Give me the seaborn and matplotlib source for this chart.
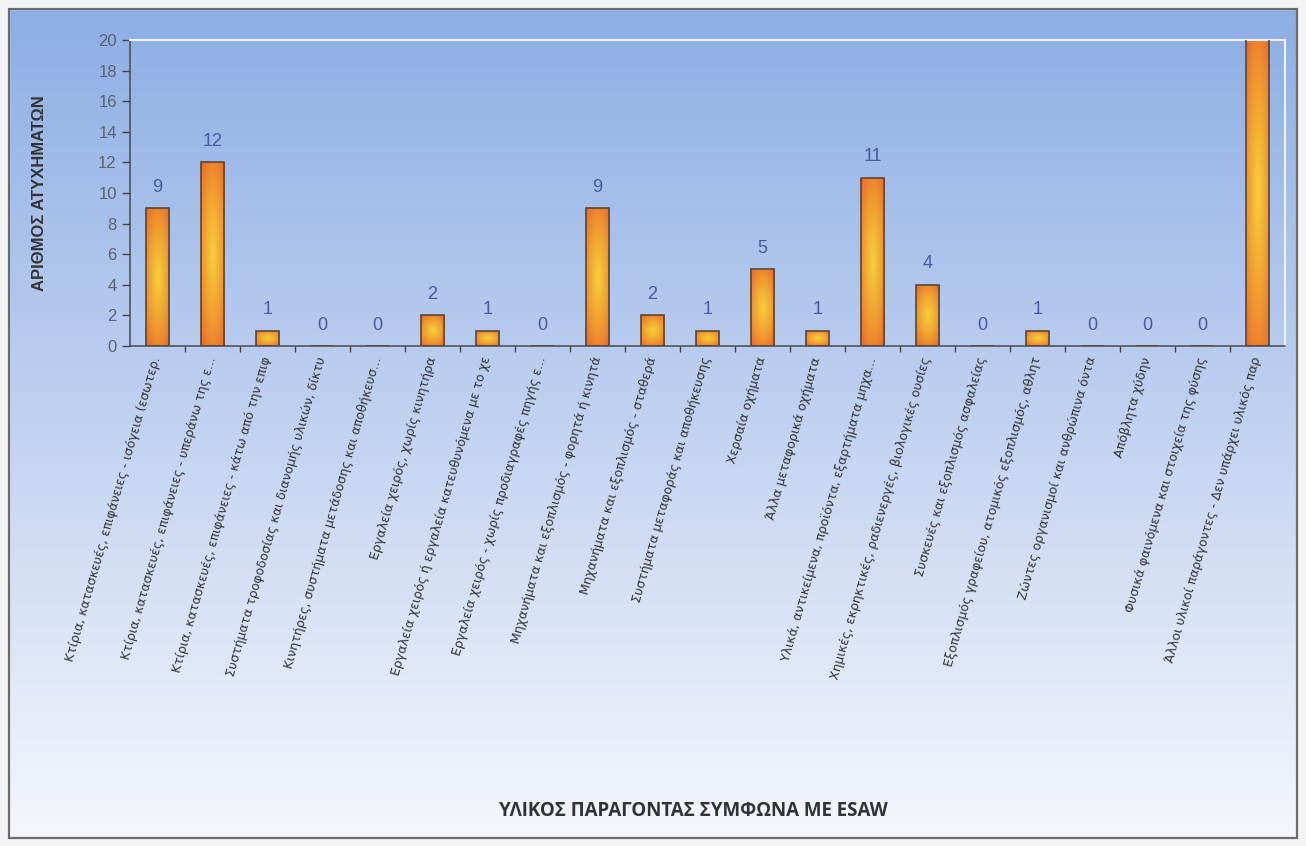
import numpy as np
import matplotlib
matplotlib.use("Agg")
import matplotlib.pyplot as plt
import seaborn as sns
from matplotlib.colors import LinearSegmentedColormap
from matplotlib.patches import Rectangle

# data
categories = [
    "Κτίρια, κατασκευές, επιφάνειες - ισόγεια (εσωτερ.",
    "Κτίρια, κατασκευές, επιφάνειες - υπεράνω της ε...",
    "Κτίρια, κατασκευές, επιφάνειες - κάτω από την επιφ",
    "Συστήματα τροφοδοσίας και διανομής υλικών, δίκτυ",
    "Κινητήρες, συστήματα μετάδοσης και αποθήκευσ...",
    "Εργαλεία χειρός, χωρίς κινητήρα",
    "Εργαλεία χειρός ή εργαλεία κατευθυνόμενα με το χε",
    "Εργαλεία χειρός - χωρίς προδιαγραφές πηγής ε...",
    "Μηχανήματα και εξοπλισμός - φορητά ή κινητά",
    "Μηχανήματα και εξοπλισμός - σταθερά",
    "Συστήματα μεταφοράς και αποθήκευσης",
    "Χερσαία οχήματα",
    "Άλλα μεταφορικά οχήματα",
    "Υλικά, αντικείμενα, προϊόντα, εξαρτήματα μηχα...",
    "Χημικές, εκρηκτικές, ραδιενεργές, βιολογικές ουσίες",
    "Συσκευές και εξοπλισμός ασφαλείας",
    "Εξοπλισμός γραφείου, ατομικός εξοπλισμός, αθλητ",
    "Ζώντες οργανισμοί και ανθρώπινα όντα",
    "Απόβλητα χύδην",
    "Φυσικά φαινόμενα και στοιχεία της φύσης",
    "Άλλοι υλικοί παράγοντες - Δεν υπάρχει υλικός παρ",
]
values = [9, 12, 1, 0, 0, 2, 1, 0, 9, 2, 1, 5, 1, 11, 4, 0, 1, 0, 0, 0, 30]
y_max = 20
y_ticks = list(range(0, 21, 2))

fig = plt.figure(figsize=(13.06, 8.46), dpi=100)

# background gradient (blue top -> white bottom)
bg = fig.add_axes([0, 0, 1, 1], zorder=-10)
top = np.array([140, 173, 228]) / 255
bot = np.array([246, 247, 253]) / 255
t = np.linspace(0, 1, 256)[:, None]
grad = top * (1 - t) + bot * t
bg.imshow(grad[:, None, :], aspect="auto", extent=[0, 1, 0, 1])
bg.set_xlim(0, 1)
bg.set_ylim(0, 1)
bg.axis("off")
bg.add_patch(Rectangle((0, 0), 1, 1, facecolor="none", edgecolor="#f4f4f4",
                       linewidth=14, transform=bg.transAxes))
bg.add_patch(Rectangle((9 / 1306, 8 / 846), 1 - 18 / 1306, 1 - 17 / 846,
                       facecolor="none", edgecolor="#6b6b6b", linewidth=1.6,
                       transform=bg.transAxes))

ax = fig.add_axes([130 / 1306, 1 - 346 / 846, 1155 / 1306, 306 / 846])
ax.patch.set_alpha(0)

sns.barplot(x=categories, y=values, ax=ax, width=0.43, color="#f0a030",
            edgecolor="#5a4636", linewidth=1.2, zorder=3)

# orange -> yellow gradient inside each bar
bar_cmap = LinearSegmentedColormap.from_list("bar", ["#f6d03c", "#f0a030", "#e8682c"])
for p in ax.patches:
    x0, w, h = p.get_x(), p.get_width(), p.get_height()
    if h <= 0:
        continue
    hv = min(h, y_max)
    xx, yy = np.meshgrid(np.linspace(-1, 1, 60), np.linspace(-1, 1, 120))
    d = np.sqrt(0.8 * xx ** 2 + yy ** 2) / np.sqrt(1.8)
    im = ax.imshow(d, cmap=bar_cmap, vmin=0, vmax=1, aspect="auto",
                   extent=[x0, x0 + w, 0, hv], origin="lower", zorder=2.5)
    im.set_clip_path(p)
    p.set_facecolor("none")

for i, v in enumerate(values):
    if v <= y_max:
        ax.annotate(str(v), (i, v), xytext=(0, 9), textcoords="offset points",
                    ha="center", va="bottom", fontsize=13, color="#4a5a9c",
                    family="Liberation Sans")

ax.set_xlim(-0.5, len(values) - 0.5)
ax.set_ylim(0, y_max)
ax.set_yticks(y_ticks)
ax.set_yticklabels([str(v) for v in y_ticks], fontsize=12, color="#5c6270",
                   family="Liberation Sans")
ax.tick_params(axis="y", direction="out", length=6, width=1, color="#444444")

ax.set_xticks(range(len(categories)))
ax.set_xticklabels(categories, rotation=74, ha="right", va="center",
                   rotation_mode="anchor", fontsize=9, color="#333333")
ax.tick_params(axis="x", length=0, pad=8)
ax.set_xticks(np.arange(0.5, len(categories) - 0.5, 1), minor=True)
ax.tick_params(axis="x", which="minor", direction="out", length=4, width=1,
               color="#444444")

for s in ["left", "bottom"]:
    ax.spines[s].set_color("#4a4a4a")
    ax.spines[s].set_linewidth(1.1)
for s in ["top", "right"]:
    ax.spines[s].set_color("#eef2fa")
    ax.spines[s].set_linewidth(1.5)

ax.set_xlabel("")
fig.text(40 / 1306, 1 - 193 / 846, "ΑΡΙΘΜΟΣ ΑΤΥΧΗΜΑΤΩΝ", rotation=90,
         ha="center", va="center", fontsize=12, fontweight="bold",
         color="#333333", family="Liberation Sans")
fig.text(693 / 1306, 1 - 811 / 846, "ΥΛΙΚΟΣ ΠΑΡΑΓΟΝΤΑΣ ΣΥΜΦΩΝΑ ΜΕ ESAW",
         ha="center", va="center", fontsize=13.5, fontweight="bold",
         color="#333333", family="Open Sans")

fig.savefig("out.png", dpi=100)
